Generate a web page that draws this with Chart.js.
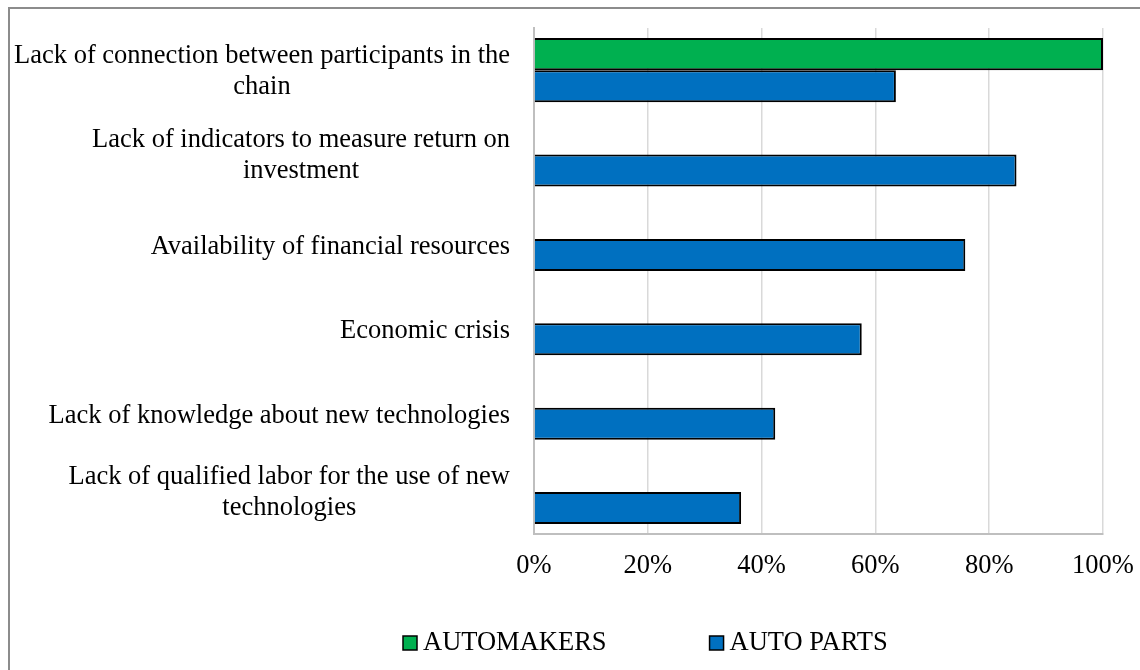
<!DOCTYPE html>
<html>
<head>
<meta charset="utf-8">
<script src="https://cdn.jsdelivr.net/npm/chart.js@4.4.1/dist/chart.umd.min.js"></script>
<style>
  html, body { margin: 0; padding: 0; background: #fff; overflow: hidden; }
  #wrap { position: relative; width: 1140px; height: 670px; }
  #frame { position: absolute; left: 8px; top: 7px; width: 1200px; height: 700px; border: 2px solid #8c8c8c; box-sizing: border-box; }
  canvas { position: absolute; left: 0; top: 0; }
</style>
</head>
<body>
<div id="wrap">
  <div id="frame"></div>
  <canvas id="grafico" width="1140" height="670"></canvas>
</div>
<script>
// Categorias (cada una partida en lineas como en el original)
const categories = [
  ["Lack of connection between participants in the", "chain"],
  ["Lack of indicators to measure return on", "investment"],
  ["Availability of financial resources"],
  ["Economic crisis"],
  ["Lack of knowledge about new technologies"],
  ["Lack of qualified labor for the use of new", "technologies"]
];

// Valores en %
const automakers = [100, null, null, null, null, null];
const autoParts = [63.6, 84.8, 75.8, 57.6, 42.4, 36.4];

const xTicks = [0, 20, 40, 60, 80, 100];

const FONT = "'Liberation Serif', 'Times New Roman', serif";
const FONT_SIZE = 26.5;

// Dibuja las etiquetas del eje Y (bloque alineado a la derecha, lineas centradas)
const yLabels = {
  id: "yLabels",
  afterDraw(chart) {
    const ctx = chart.ctx;
    const yScale = chart.scales.y;
    const right = chart.chartArea.left - 24;
    const lineH = 31;
    ctx.save();
    ctx.font = FONT_SIZE + "px " + FONT;
    ctx.fillStyle = "#000";
    ctx.textAlign = "center";
    ctx.textBaseline = "middle";
    categories.forEach((lines, i) => {
      const w = Math.max(...lines.map(l => ctx.measureText(l).width));
      const cx = right - w / 2;
      // en el original las etiquetas de una linea quedan algo mas abajo
      const cy = yScale.getPixelForTick(i) + (lines.length === 1 ? 8 : 1);
      const top = cy - (lines.length - 1) * lineH / 2;
      lines.forEach((l, j) => ctx.fillText(l, cx, top + j * lineH));
    });
    ctx.restore();
  }
};

// Leyenda propia abajo
const legendaAbajo = {
  id: "legendaAbajo",
  afterDraw(chart) {
    const ctx = chart.ctx;
    let x = 403;
    const y = 643;
    ctx.save();
    ctx.font = FONT_SIZE + "px " + FONT;
    ctx.textBaseline = "middle";
    ctx.textAlign = "left";
    chart.data.datasets.forEach(ds => {
      ctx.fillStyle = ds.backgroundColor;
      ctx.fillRect(x, y - 7, 14, 14);
      ctx.strokeStyle = "#000";
      ctx.lineWidth = 1.5;
      ctx.strokeRect(x, y - 7, 14, 14);
      ctx.fillStyle = "#000";
      ctx.fillText(ds.label, x + 20, y);
      x += 20 + ctx.measureText(ds.label).width + 103;
    });
    ctx.restore();
  }
};

const ctx = document.getElementById("grafico").getContext("2d");
const grafico = new Chart(ctx, {
  type: "bar",
  data: {
    labels: categories,
    datasets: [
      {
        label: "AUTOMAKERS",
        data: automakers,
        backgroundColor: "#00B050",
        borderColor: "#000",
        borderWidth: 2
      },
      {
        label: "AUTO PARTS",
        data: autoParts,
        backgroundColor: "#0070C0",
        borderColor: "#000",
        borderWidth: 2
      }
    ]
  },
  options: {
    indexAxis: "y",
    responsive: false,
    animation: false,
    categoryPercentage: 0.76,
    barPercentage: 1,
    layout: { padding: { top: 28, right: 0, bottom: 72, left: 0 } },
    plugins: {
      legend: { display: false },
      tooltip: { enabled: false }
    },
    scales: {
      x: {
        min: 0,
        max: 100,
        afterBuildTicks(scale) {
          scale.ticks = xTicks.map(v => ({ value: v }));
        },
        afterFit(scale) {
          scale.paddingLeft = 0;
          scale.paddingRight = 37;
        },
        ticks: {
          callback: v => v + "%",
          color: "#000",
          font: { family: FONT, size: FONT_SIZE },
          padding: 16,
          maxRotation: 0
        },
        grid: { color: "#d9d9d9", lineWidth: 1.5, drawTicks: false },
        border: { color: "#bfbfbf", width: 2 }
      },
      y: {
        ticks: { display: false },
        grid: { display: false, drawTicks: false },
        border: { color: "#bfbfbf", width: 2 },
        afterFit(scale) {
          scale.width = 534;
        }
      }
    }
  },
  plugins: [yLabels, legendaAbajo]
});
</script>
</body>
</html>
